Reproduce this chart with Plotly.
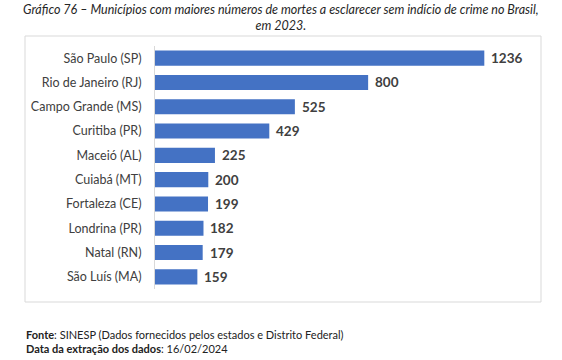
import plotly.graph_objects as go

cities = ["São Paulo (SP)", "Rio de Janeiro (RJ)", "Campo Grande (MS)", "Curitiba (PR)",
          "Maceió (AL)", "Cuiabá (MT)", "Fortaleza (CE)", "Londrina (PR)", "Natal (RN)", "São Luís (MA)"]
deaths = [1236, 800, 525, 429, 225, 200, 199, 182, 179, 159]

title_text = ("Gráfico 76 – Municípios com maiores números de mortes a esclarecer sem indício de crime no Brasil,"
              "<br>em 2023.")
source_text = "<b>Fonte</b>: SINESP (Dados fornecidos pelos estados e Distrito Federal)"
date_text = "<b>Data da extração dos dados</b>: 16/02/2024"

W, H = 562, 360
L, R, T, B = 155, 34, 46, 71
pw, ph = W - L - R, H - T - B
FONT = "Lato"

def px(x):
    return (x - L) / pw

def py(y):
    return (H - B - y) / ph

fig = go.Figure(go.Bar(
    x=deaths, y=cities, orientation="h",
    marker=dict(color="#4472C4", line=dict(width=0)),
    hoverinfo="skip",
))

for c, v in zip(cities, deaths):
    fig.add_annotation(x=v, y=c, xref="x", yref="y", text=f"<b>{v}</b>", showarrow=False,
                       xanchor="left", xshift=5, font=dict(family=FONT, size=13.5, color="#404040"))

fig.add_shape(type="rect", xref="paper", yref="paper",
              x0=px(25), x1=px(541), y0=py(36), y1=py(302),
              line=dict(color="#d9d9d9", width=1), layer="below")

fig.add_annotation(xref="paper", yref="paper", x=px(281), y=py(0), yanchor="top", xanchor="center",
                   text=f"<i>{title_text}</i>", showarrow=False, align="center",
                   font=dict(family=FONT, size=12.5, color="#262626"))
fig.add_annotation(xref="paper", yref="paper", x=px(24), y=py(334), yanchor="middle", xanchor="left",
                   text=source_text, showarrow=False, align="left",
                   font=dict(family=FONT, size=11, color="#222222"))
fig.add_annotation(xref="paper", yref="paper", x=px(24), y=py(348), yanchor="middle", xanchor="left",
                   text=date_text, showarrow=False, align="left",
                   font=dict(family=FONT, size=11, color="#222222"))

fig.update_layout(
    width=W, height=H,
    margin=dict(l=L, r=R, t=T, b=B, autoexpand=False),
    paper_bgcolor="white", plot_bgcolor="white",
    bargap=0.38, showlegend=False,
    xaxis=dict(range=[0, 1400], visible=False, fixedrange=True),
    yaxis=dict(range=[9.5, -0.5], showline=True, linecolor="#d9d9d9", linewidth=1,
               showgrid=False, ticks="", ticklabelstandoff=10,
               tickfont=dict(family=FONT, size=12.5, color="#404040"), fixedrange=True),
)

fig.write_html("out.html", config={"displayModeBar": False})

with open("out.html", "r", encoding="utf-8") as f:
    html = f.read()
html = html.replace("<head>", "<head><style>html,body{margin:0;padding:0;overflow:hidden;}</style>", 1)
with open("out.html", "w", encoding="utf-8") as f:
    f.write(html)
